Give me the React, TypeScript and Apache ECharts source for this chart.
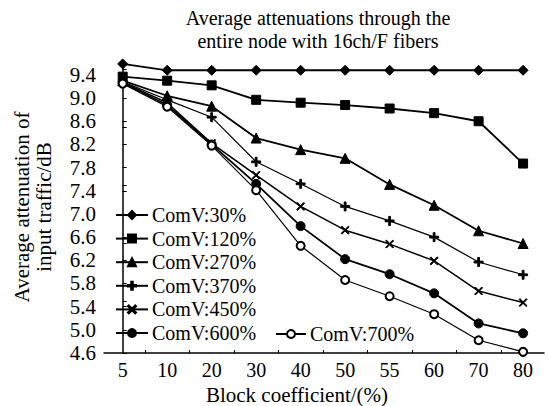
import React, { useEffect, useRef } from "react";
import * as echarts from "echarts";

const categories = ["5", "10", "20", "30", "40", "50", "55", "60", "70", "80"];
const seriesNames = ["ComV:30%", "ComV:120%", "ComV:270%", "ComV:370%", "ComV:450%", "ComV:600%", "ComV:700%"];
const v30 = [9.59, 9.48, 9.48, 9.48, 9.48, 9.48, 9.48, 9.48, 9.48, 9.48];
const v120 = [9.37, 9.3, 9.22, 8.97, 8.92, 8.88, 8.82, 8.74, 8.6, 7.87];
const v270 = [9.3, 9.04, 8.86, 8.31, 8.11, 7.96, 7.51, 7.15, 6.71, 6.49];
const v370 = [9.28, 8.97, 8.67, 7.9, 7.52, 7.13, 6.88, 6.6, 6.17, 5.95];
const v450 = [9.27, 8.92, 8.22, 7.67, 7.13, 6.72, 6.48, 6.19, 5.67, 5.47];
const v600 = [9.26, 8.88, 8.2, 7.52, 6.79, 6.22, 5.96, 5.63, 5.11, 4.94];
const v700 = [9.25, 8.85, 8.18, 7.41, 6.45, 5.86, 5.58, 5.27, 4.82, 4.62];
const yTicks = [4.6, 5.0, 5.4, 5.8, 6.2, 6.6, 7.0, 7.4, 7.8, 8.2, 8.6, 9.0, 9.4];

const FONT = "Liberation Serif";
const plusPath = "path://M4,0H6V4H10V6H6V10H4V6H0V4H4Z";
const crossPath = "path://M0,1L1,0L5,4L9,0L10,1L6,5L10,9L9,10L5,6L1,10L0,9L4,5Z";

export default function App() {
  const ref = useRef<HTMLDivElement>(null);
  useEffect(() => {
    const chart = echarts.init(ref.current!, null, { renderer: "svg" });
    const values = [v30, v120, v270, v370, v450, v600, v700];
    const symbols = ["diamond", "rect", "triangle", plusPath, crossPath, "circle", "emptyCircle"];
    const sizes = [10, 9, 10, 9, 8, 9, 8];
    const widths = [1.8, 1.8, 1.8, 1.2, 1.5, 1.8, 1.2];
    const series = values.map((vals, k) => ({
      name: seriesNames[k],
      type: "line",
      data: vals.map((v, i) => [i, v]),
      symbol: symbols[k],
      symbolSize: sizes[k],
      showAllSymbol: true,
      color: "#000",
      lineStyle: { color: "#000", width: widths[k], type: "solid" },
      itemStyle: { color: "#000", borderColor: "#000", borderWidth: 1 },
    }));
    const legendText = { fontFamily: FONT, fontSize: 20, color: "#000", padding: [0, 0, 0, -1] };
    chart.setOption({
      animation: false,
      backgroundColor: "#fff",
      title: {
        text: "Average attenuations through the\nentire node with 16ch/F fibers",
        left: 313,
        top: 1,
        textAlign: "center",
        textStyle: { fontFamily: FONT, fontSize: 20, fontWeight: "normal", color: "#000", lineHeight: 23 },
      },
      legend: [
        {
          data: seriesNames.slice(0, 6),
          orient: "vertical",
          left: 110,
          top: 200,
          itemWidth: 32,
          itemHeight: 10,
          itemGap: 3.6,
          textStyle: legendText,
        },
        {
          data: [seriesNames[6]],
          left: 270,
          top: 319,
          itemWidth: 30,
          itemHeight: 10,
          textStyle: legendText,
        },
      ],
      grid: { left: 104, right: 4, top: 61, bottom: 53, outerBoundsMode: "none", containLabel: false },
      xAxis: {
        type: "value",
        min: -0.42,
        max: 9.47,
        name: "Block coefficient/(%)",
        nameLocation: "middle",
        nameGap: 27,
        nameTextStyle: { fontFamily: FONT, fontSize: 21, lineHeight: 21, color: "#000", padding: [0, 54, 0, 0] },
        splitLine: { show: false },
        axisLine: { lineStyle: { color: "#000", width: 1.5 } },
        axisTick: {
          inside: true,
          length: 3,
          customValues: [0.5, 1.5, 2.5, 3.5, 4.5, 5.5, 6.5, 7.5, 8.5],
          lineStyle: { color: "#000" },
        },
        axisLabel: {
          customValues: categories.map((_, i) => i),
          formatter: (v: number) => categories[Math.round(v)] ?? "",
          fontFamily: FONT,
          fontSize: 20,
          color: "#000",
          margin: 7,
        },
      },
      yAxis: {
        type: "value",
        min: 4.6,
        max: 9.64,
        name: "Average attenuation of\ninput traffic/dB",
        nameLocation: "middle",
        nameGap: 49,
        nameTextStyle: { fontFamily: FONT, fontSize: 21, color: "#000", lineHeight: 22 },
        splitLine: { show: false },
        axisLine: { lineStyle: { color: "#000", width: 1.5 } },
        axisTick: { inside: true, length: 4, customValues: yTicks, lineStyle: { color: "#000" } },
        minorTick: { show: true, splitNumber: 2, length: 4, lineStyle: { color: "#000" } },
        axisLabel: {
          customValues: yTicks,
          formatter: (v: number) => v.toFixed(1),
          fontFamily: FONT,
          fontSize: 21,
          color: "#000",
          margin: 8,
        },
      },
      series,
    });
    return () => chart.dispose();
  }, []);
  return <div ref={ref} style={{ width: 548, height: 406, position: "absolute", left: 0, top: 0 }} />;
}
